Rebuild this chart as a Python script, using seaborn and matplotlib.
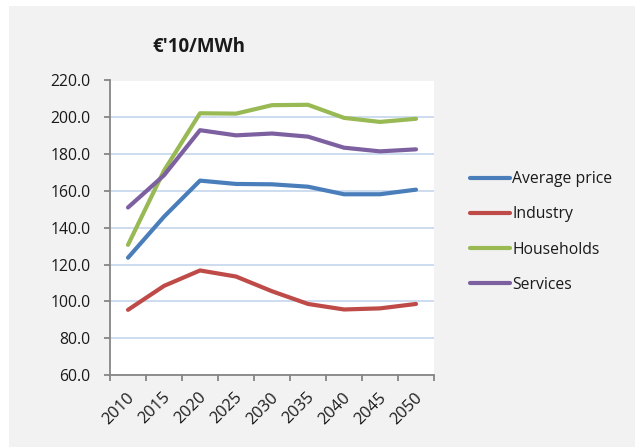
import matplotlib
matplotlib.use("Agg")
import matplotlib.pyplot as plt
import matplotlib.transforms as mtransforms
from matplotlib.patches import Rectangle
from matplotlib.ticker import FixedLocator
import numpy as np
import pandas as pd
import seaborn as sns

# Electricity price projections, €'10/MWh
years = ["2010", "2015", "2020", "2025", "2030", "2035", "2040", "2045", "2050"]
average_price = [123.7, 146.0, 165.6, 163.8, 163.6, 162.3, 158.2, 158.2, 160.7]
industry = [95.4, 108.4, 116.8, 113.5, 105.5, 98.6, 95.6, 96.2, 98.6]
households = [130.7, 171.0, 202.2, 202.0, 206.6, 206.8, 199.7, 197.5, 199.2]
services = [151.0, 168.5, 193.0, 190.2, 191.2, 189.5, 183.5, 181.5, 182.6]

series_names = ["Average price", "Industry", "Households", "Services"]
series_values = [average_price, industry, households, services]
palette = ["#4A7EBB", "#BE4B48", "#98B954", "#7D60A0"]

df = pd.DataFrame(
    [(y, name, v) for name, vals in zip(series_names, series_values)
     for y, v in zip(years, vals)],
    columns=["year", "series", "price"],
)

sns.set_theme(style="white")
plt.rcParams["font.family"] = ["Open Sans", "DejaVu Sans"]

W, H, DPI = 635, 447, 100
fig = plt.figure(figsize=(W / DPI, H / DPI), dpi=DPI, facecolor="white")
# grey chart area with a thin white margin on top and left
fig.patches.append(Rectangle((9 / W, 0), 1 - 9 / W, (H - 6) / H,
                             transform=fig.transFigure, facecolor="#F2F2F2",
                             edgecolor="none", zorder=-10))

left, right = 110 / W, 434 / W
top, bottom = 1 - 80.5 / H, 1 - 375 / H
ax = fig.add_axes([left, bottom, right - left, top - bottom])
ax.set_facecolor("white")

sns.lineplot(data=df, x="year", y="price", hue="series", palette=palette,
             hue_order=series_names, linewidth=3.0, ax=ax, legend=False,
             sort=False)
for ln in ax.lines:
    ln.set_solid_capstyle("round")
    ln.set_solid_joinstyle("round")

n = len(years)
ax.set_xlim(-0.5, n - 0.5)
ax.set_ylim(60, 220)
ax.set_yticks(np.arange(60, 221, 20))
ax.set_yticklabels([f"{v:.1f}" for v in np.arange(60, 221, 20)])
ax.set_xticks(range(n))
ax.set_xticklabels(years)
ax.xaxis.set_minor_locator(FixedLocator(np.arange(-0.5, n, 1.0)))
ax.set_xlabel("")
ax.set_ylabel("")

axis_col = "#868686"
for s in ["top", "right"]:
    ax.spines[s].set_visible(False)
for s in ["left", "bottom"]:
    ax.spines[s].set_color(axis_col)
    ax.spines[s].set_linewidth(1.3)

ax.grid(axis="y", color="#C3D6EC", linewidth=1.2)
ax.yaxis.get_gridlines()[-1].set_visible(False)
ax.set_axisbelow(True)

ax.tick_params(axis="y", which="major", left=True, length=4.5, width=1.3,
               color=axis_col, pad=9.5, labelsize=11.3, labelcolor="#1a1a1a")
ax.tick_params(axis="x", which="major", bottom=True, length=0, pad=14.5,
               labelsize=11.8, labelcolor="#1a1a1a")
ax.tick_params(axis="x", which="minor", bottom=True, length=4.5, width=1.3,
               color=axis_col)

shift = mtransforms.ScaledTranslation(4 / DPI, 0, fig.dpi_scale_trans)
for lab in ax.get_xticklabels():
    lab.set_rotation(45)
    lab.set_ha("right")
    lab.set_va("center")
    lab.set_rotation_mode("anchor")
    lab.set_transform(lab.get_transform() + shift)

fig.text(199 / W, 1 - 47 / H, "€'10/MWh", ha="center", va="center",
         fontsize=13.5, fontweight="bold", color="#1a1a1a")

handles = [plt.Line2D([], [], color=c, linewidth=3.0) for c in palette]
fig.legend(handles, series_names, loc="upper left",
           bbox_to_anchor=(470 / W, 1 - 171 / H), frameon=False,
           fontsize=11.3, handlelength=2.55, handletextpad=0.15,
           labelspacing=1.23, borderpad=0, borderaxespad=0,
           labelcolor="#1a1a1a")

fig.savefig("out.png", dpi=DPI, facecolor=fig.get_facecolor())
